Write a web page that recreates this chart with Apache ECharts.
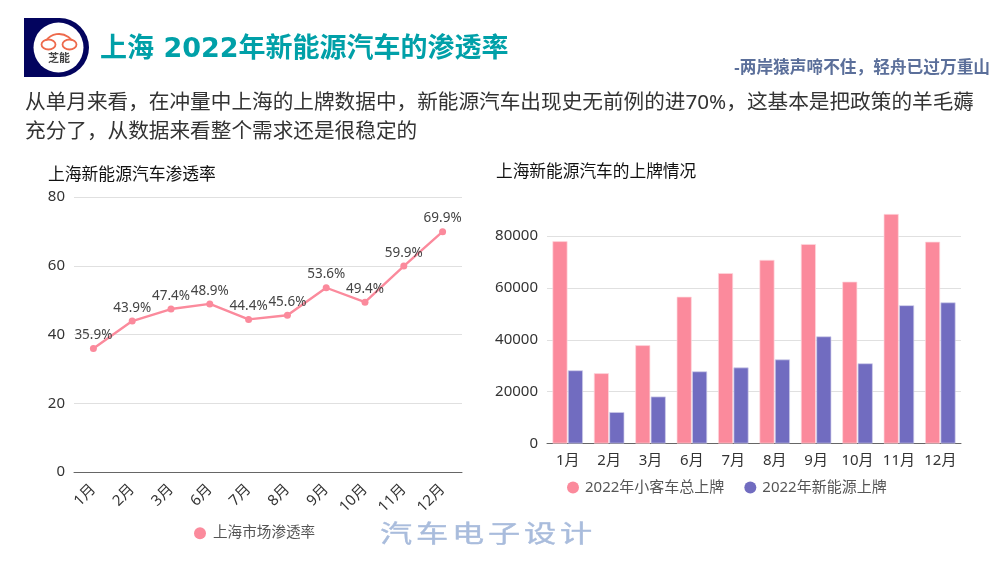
<!DOCTYPE html>
<html>
<head>
<meta charset="utf-8">
<style>
html, body { margin: 0; padding: 0; background: #fff; }
#main { width: 1003px; height: 561px; }
</style>
<script src="https://cdn.jsdelivr.net/npm/echarts@6/dist/echarts.min.js"></script>
</head>
<body>
<div id="main"></div>
<script>
const months = ['1月', '2月', '3月', '6月', '7月', '8月', '9月', '10月', '11月', '12月'];
const penetration = [35.9, 43.9, 47.4, 48.9, 44.4, 45.6, 53.6, 49.4, 59.9, 69.9];
const totalPlates = [78000, 27100, 37900, 56600, 65700, 70800, 76900, 62400, 88500, 77800];
const nevPlates = [28200, 12100, 18100, 27800, 29300, 32400, 41300, 30900, 53300, 54400];

const pageTitle = '上海 2022年新能源汽车的渗透率';
const motto = '-两岸猿声啼不住，轻舟已过万重山';
const bodyLines = [
  '从单月来看，在冲量中上海的上牌数据中，新能源汽车出现史无前例的进70%，这基本是把政策的羊毛薅',
  '充分了，从数据来看整个需求还是很稳定的'
];
const watermark = ['汽', '车', '电', '子', '设', '计'];

const PINK = '#fb8a9c';
const PURPLE = '#716cc0';
const FONT = '"Noto Sans", "Noto Sans CJK SC", sans-serif';

const chart = echarts.init(document.getElementById('main'));

const logo = [
  { type: 'rect', shape: { x: 24, y: 18, width: 36, height: 59 }, style: { fill: '#03045e' } },
  { type: 'sector', shape: { cx: 59.5, cy: 47.5, r: 29.5, startAngle: -Math.PI / 2, endAngle: Math.PI / 2 }, style: { fill: '#03045e' } },
  { type: 'circle', shape: { cx: 58.5, cy: 47.5, r: 25 }, style: { fill: '#fff' } },
  { type: 'ellipse', shape: { cx: 48.5, cy: 44.5, rx: 7, ry: 5 }, style: { fill: 'none', stroke: '#ee6a4c', lineWidth: 1.8 } },
  { type: 'ellipse', shape: { cx: 69.5, cy: 44.5, rx: 7, ry: 5 }, style: { fill: 'none', stroke: '#ee6a4c', lineWidth: 1.8 } },
  { type: 'arc', shape: { cx: 59, cy: 50, r: 16, startAngle: Math.PI * 1.2, endAngle: Math.PI * 1.8 }, style: { fill: 'none', stroke: '#ee6a4c', lineWidth: 1.8 } },
  { type: 'text', style: { text: '芝能', x: 59, y: 58, align: 'center', verticalAlign: 'middle', font: 'bold 11px "Noto Sans CJK SC"', fill: '#444' } }
];

const texts = [
  { type: 'text', style: { text: pageTitle, x: 100, y: 50, verticalAlign: 'middle', font: 'bold 27px "DejaVu Sans", "Noto Sans CJK SC", sans-serif', fill: '#00a0a8' } },
  { type: 'text', style: { text: motto, x: 990, y: 68, align: 'right', verticalAlign: 'middle', font: 'bold 16.7px ' + FONT, fill: '#5b6f9a' } },
  { type: 'text', style: { text: bodyLines[0], x: 25, y: 103, verticalAlign: 'middle', font: '20.65px ' + FONT, fill: '#333' } },
  { type: 'text', style: { text: bodyLines[1], x: 25, y: 132, verticalAlign: 'middle', font: '20.65px ' + FONT, fill: '#333' } }
];

const markText = watermark.map((ch, i) => ({
  type: 'text',
  x: 380 + i * 36,
  y: 535,
  scaleX: 1.34,
  style: { text: ch, verticalAlign: 'middle', font: '24px ' + FONT, fill: '#a9bcdc', stroke: '#a9bcdc', lineWidth: 0.4 }
}));

chart.setOption({
  backgroundColor: '#fff',
  animation: false,
  textStyle: { fontFamily: FONT },
  title: [
    { text: '上海新能源汽车渗透率', left: 43, top: 162, textStyle: { fontSize: 16.8, fontWeight: 'normal', color: '#111' } },
    { text: '上海新能源汽车的上牌情况', left: 491, top: 159, textStyle: { fontSize: 16.7, fontWeight: 'normal', color: '#111' } }
  ],
  legend: [
    {
      data: ['上海市场渗透率'], left: 189, top: 521, icon: 'circle',
      itemWidth: 12, itemHeight: 12, itemGap: 20,
      itemStyle: { borderWidth: 0 },
      textStyle: { fontSize: 14.6, color: '#555', padding: [0, 0, 0, 2] }
    },
    {
      data: ['2022年小客车总上牌', '2022年新能源上牌'], left: 562, top: 475, icon: 'circle',
      itemWidth: 12, itemHeight: 12, itemGap: 20,
      itemStyle: { borderWidth: 0 },
      textStyle: { fontSize: 15, color: '#555', padding: [0, 0, 0, 1] }
    }
  ],
  grid: [
    { left: 74, top: 197, width: 388, height: 275 },
    { left: 547, top: 214, width: 414, height: 229.5 }
  ],
  xAxis: [
    {
      type: 'category', gridIndex: 0, data: months,
      axisTick: { alignWithLabel: true, length: 5, lineStyle: { color: '#666' } },
      axisLine: { lineStyle: { color: '#666' } },
      axisLabel: { rotate: 45, fontSize: 15, color: '#333', margin: 15, interval: 0 }
    },
    {
      type: 'category', gridIndex: 1, data: months,
      axisTick: { alignWithLabel: true, length: 5, lineStyle: { color: '#666' } },
      axisLine: { lineStyle: { color: '#666' } },
      axisLabel: { fontSize: 15, color: '#333', margin: 10, interval: 0 }
    }
  ],
  yAxis: [
    {
      type: 'value', gridIndex: 0, min: 0, max: 80, interval: 20,
      axisLine: { show: false }, axisTick: { show: false },
      axisLabel: { fontSize: 15, color: '#333', margin: 9, padding: [4, 0, 0, 0] },
      splitLine: { lineStyle: { color: '#e0e0e0' } }
    },
    {
      type: 'value', gridIndex: 1, min: 0, max: 88500, interval: 20000,
      axisLine: { show: false }, axisTick: { show: false },
      axisLabel: { fontSize: 15, color: '#333', margin: 9, padding: [4, 0, 0, 0], showMaxLabel: false, formatter: v => String(v) },
      splitLine: { showMaxLine: false, lineStyle: { color: '#e0e0e0' } }
    }
  ],
  series: [
    {
      name: '上海市场渗透率', type: 'line', xAxisIndex: 0, yAxisIndex: 0,
      data: penetration, symbol: 'circle', symbolSize: 7,
      itemStyle: { color: PINK }, lineStyle: { color: PINK, width: 2.4 },
      label: { show: true, position: 'top', distance: 3, fontSize: 13.5, color: '#444', formatter: p => p.value + '%' }
    },
    {
      name: '2022年小客车总上牌', type: 'bar', xAxisIndex: 1, yAxisIndex: 1,
      data: totalPlates, barWidth: 15, barGap: '3%',
      itemStyle: { color: PINK, borderColor: '#fdd8de', borderWidth: 0.7 }
    },
    {
      name: '2022年新能源上牌', type: 'bar', xAxisIndex: 1, yAxisIndex: 1,
      data: nevPlates, barWidth: 15,
      itemStyle: { color: PURPLE, borderColor: '#cfcdea', borderWidth: 0.7 }
    }
  ],
  graphic: { elements: logo.concat(texts, markText) }
});
</script>
</body>
</html>
